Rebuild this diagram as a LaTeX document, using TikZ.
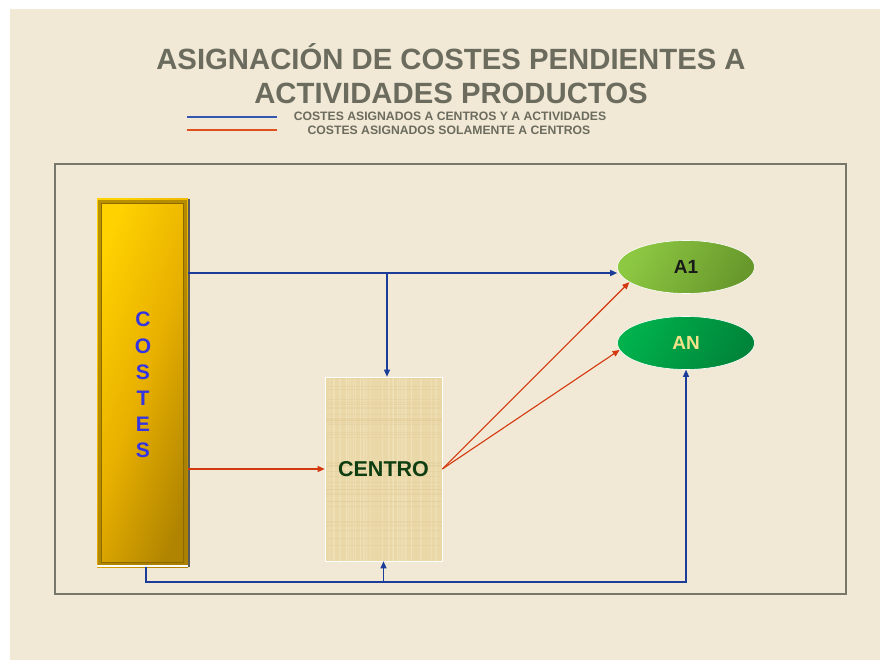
\documentclass[tikz,border=0pt]{standalone}
\usepackage{fontspec}
\setmainfont{Liberation Sans}
\usetikzlibrary{shapes.geometric,arrows.meta,calc}

\definecolor{fondo}{HTML}{F1E9D6}
\definecolor{gristitulo}{HTML}{6B6B5E}
\definecolor{grismarco}{HTML}{77776B}
\definecolor{azulflecha}{HTML}{1C3C9A}
\definecolor{rojoflecha}{HTML}{D4380E}
\definecolor{azulley}{HTML}{3458B0}
\definecolor{rojoley}{HTML}{E0501E}
\definecolor{oroclaro}{HTML}{FFD200}
\definecolor{oromedio}{HTML}{E8B000}
\definecolor{orooscuro}{HTML}{B08400}
\definecolor{orobisel}{HTML}{A88000}
\definecolor{papiro}{HTML}{EBD8A8}
\definecolor{papiroclaro}{HTML}{F3E6C2}
\definecolor{papirooscuro}{HTML}{DEC892}
\definecolor{verdeclaro}{HTML}{8DC842}
\definecolor{verdemedio}{HTML}{68982C}
\definecolor{verdeAN}{HTML}{00B14C}
\definecolor{verdeANosc}{HTML}{00853A}
\definecolor{letraAN}{HTML}{F2E38A}
\definecolor{letracentro}{HTML}{0E3D12}
\definecolor{letracostes}{HTML}{3434E2}

\begin{document}
\begin{tikzpicture}[x=1pt,y=-1pt,
  every node/.style={font=\bfseries},
  azul/.style={draw=azulflecha,line width=1.1pt},
  rojo/.style={draw=rojoflecha,line width=1.1pt},
  punta/.style={-{Triangle[length=7pt,width=6pt]}},
  barra/.style={rectangle,minimum width=91pt,minimum height=368pt,inner sep=0pt,
    shading=axis,left color=oroclaro,right color=orooscuro,middle color=oromedio,shading angle=70},
  papel/.style={rectangle,minimum width=117pt,minimum height=184pt,inner sep=0pt,
    fill=papiro,draw=white,line width=0.6pt,
    text=letracentro,font=\bfseries\fontsize{21.5}{24}\selectfont,
    path picture={
      \pgfmathsetseed{11}
      \foreach \k in {1,...,40}{
        \pgfmathsetmacro{\px}{rnd}
        \draw[papiroclaro,line width=0.7pt,opacity=0.45]
          ($(path picture bounding box.north west)!\px!(path picture bounding box.north east)$) --
          ($(path picture bounding box.south west)!\px!(path picture bounding box.south east)$);
      }
      \foreach \k in {1,...,40}{
        \pgfmathsetmacro{\py}{rnd}
        \draw[papirooscuro,line width=0.5pt,opacity=0.3]
          ($(path picture bounding box.north west)!\py!(path picture bounding box.south west)$) --
          ($(path picture bounding box.north east)!\py!(path picture bounding box.south east)$);
      }
    }},
  actividad/.style={ellipse,minimum width=137pt,minimum height=53pt,inner sep=0pt,
    draw=white,line width=0.6pt,font=\bfseries\fontsize{19}{22}\selectfont},
  leyenda/.style={anchor=base,text=gristitulo,font=\bfseries\fontsize{12.2}{14}\selectfont}]

% fondo y margenes
\useasboundingbox (0,0) rectangle (880,660);
\fill[white] (0,0) rectangle (880,660);
\fill[fondo] (10,9) rectangle (880,660);

% titulo
\node[anchor=base,text=gristitulo,font=\bfseries\fontsize{29.3}{34}\selectfont] (titulo1) at (451,70) {ASIGNACIÓN DE COSTES PENDIENTES A};
\node[anchor=base,text=gristitulo,font=\bfseries\fontsize{29.3}{34}\selectfont] (titulo2) at (451,104) {ACTIVIDADES PRODUCTOS};

% leyenda
\node[leyenda] (ley1) at (450,121) {COSTES ASIGNADOS A CENTROS Y A ACTIVIDADES};
\node[leyenda] (ley2) at (449,135) {COSTES ASIGNADOS SOLAMENTE A CENTROS};
\draw[draw=azulley,line width=1.6pt] (187,117) -- (277,117);
\draw[draw=rojoley,line width=1.6pt] (187,130) -- (277,130);

% marco
\draw[grismarco,line width=2pt] (55,164) rectangle (846,594);

% nodos
\node[barra] (costes) at (142.5,383) {};
\node[text=letracostes,align=center,font=\bfseries\fontsize{21}{26.1}\selectfont] (letras) at (143,385) {C\\O\\S\\T\\E\\S};
\draw[orobisel,line width=2.5pt,opacity=0.8] ([shift={(2.5,2.5)}]costes.north west) rectangle ([shift={(-2.5,-2.5)}]costes.south east);
\draw[orooscuro!80!black,line width=0.8pt] ([shift={(5,5)}]costes.north west) rectangle ([shift={(-5,-5)}]costes.south east);
\draw[black!65,line width=2.5pt] ([xshift=1pt]costes.north east) -- ([xshift=1pt]costes.south east);
\draw[white,line width=1.5pt] ([yshift=1pt]costes.south west) -- ([yshift=1pt]costes.south east);

\node[papel] (centro) at (383.5,469) {CENTRO};

\node[actividad,shading=axis,left color=verdeclaro,right color=verdemedio,shading angle=60,text=black!90] (a1) at (686,267) {A1};
\node[actividad,shading=axis,left color=verdeAN,right color=verdeANosc,shading angle=60,text=letraAN] (an) at (686,343) {AN};

% conectores
\coordinate (arriba) at (387,273);
\coordinate (abajo) at (146,582);
\draw[azul,punta] (costes.east |- arriba) -- (a1.west |- arriba);
\draw[azul,punta] (arriba) -- (arriba |- centro.north);
\draw[rojo,punta] (costes.east |- centro.west) -- (centro.west);
\draw[rojo,punta] (centro.east) -- (a1.195);
\draw[rojo,punta] (centro.east) -- (an.186);
\draw[azul,punta] (costes.south -| abajo) -- (abajo) -- (abajo -| an.south) -- (an.south);
\draw[azul,punta] (abajo -| centro.south) -- (centro.south);
\end{tikzpicture}
\end{document}
